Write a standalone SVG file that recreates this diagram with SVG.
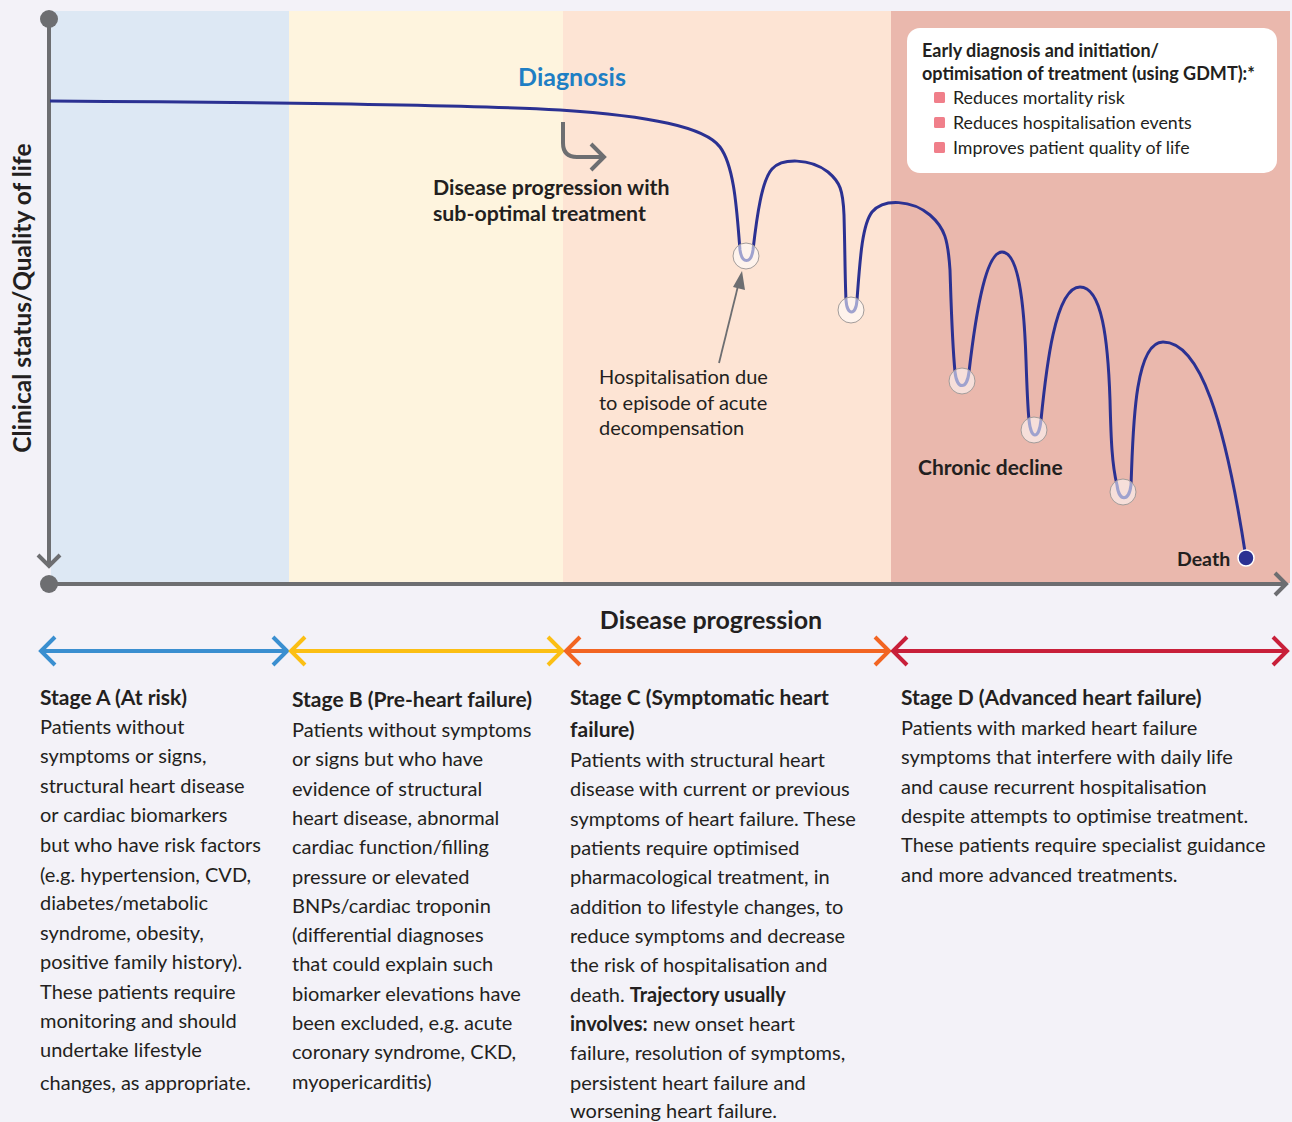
<svg xmlns="http://www.w3.org/2000/svg" width="1292" height="1122" viewBox="0 0 1292 1122">
<style>
text{font-family:Lato,"Open Sans","Liberation Sans",sans-serif;fill:#231f20}
.b{font-weight:bold}
.body{font-size:20px}
.ttl{font-size:21px;font-weight:bold}
.axis{stroke:#6d6e71;stroke-width:4;fill:none}
.dip{fill:#ffffff;fill-opacity:0.55;stroke:#a39c9a;stroke-width:1}
.sa{fill:none;stroke-width:4;stroke-linecap:butt;stroke-linejoin:miter}
.leg{font-size:17.8px}
.legt{font-size:18px;font-weight:bold}
</style>
<rect x="0" y="0" width="1292" height="1122" fill="#f3f2f8"/>
<g id="panels">
<rect x="51" y="11" width="238" height="572" fill="#dde8f4"/>
<rect x="289" y="11" width="274" height="572" fill="#fef4de"/>
<rect x="563" y="11" width="328" height="572" fill="#fde4d4"/>
<rect x="891" y="11" width="399" height="572" fill="#eab8ad"/>
</g>
<g id="axes">
<line class="axis" x1="49" y1="19" x2="49" y2="566"/>
<polyline class="axis" points="38,555 49,566 60,555"/>
<circle cx="49" cy="19" r="9" fill="#6d6e71"/>
<line class="axis" x1="49" y1="584" x2="1286" y2="584"/>
<polyline class="axis" points="1275,573 1286,584 1275,595"/>
<circle cx="49" cy="584" r="9" fill="#6d6e71"/>
<text class="b" font-size="24.5" transform="translate(31,298) rotate(-90)" text-anchor="middle">Clinical status/Quality of life</text>
<text class="b" font-size="25" x="711" y="629" text-anchor="middle">Disease progression</text>
</g>
<g id="curve">
<path d="M50,101 C200,102 450,104 560,110 C650,116 705,127 720,147 C735,167 737,215 740,250 C742,264 751,264 753,250 C757,215 762,180 772,169 C782,158 810,158 828,172 C840,182 843,190 844,215 C845,250 845,280 846,300 C847,316 856,316 857,300 C860,260 862,225 872,212 C884,198 912,200 930,215 C945,228 948,240 950,270 C951,300 952,340 955,372 C957,390 967,390 969,372 C975,320 985,252 1002,252 C1018,252 1024,300 1026,360 C1027,390 1028,410 1029,420 C1031,440 1039,440 1041,420 C1046,370 1055,287 1080,287 C1102,287 1108,340 1110,400 C1111,440 1112,465 1117,485 C1119,502 1129,502 1131,485 C1133,440 1133,342 1163,342 C1200,342 1225,420 1246,558" fill="none" stroke="#2b3192" stroke-width="3"/>
<circle class="dip" cx="746" cy="256" r="13"/>
<circle class="dip" cx="851" cy="310" r="13"/>
<circle class="dip" cx="962" cy="381" r="13"/>
<circle class="dip" cx="1034" cy="430" r="13"/>
<circle class="dip" cx="1123" cy="492" r="13"/>
<circle cx="1246" cy="558" r="8" fill="#2b3192" stroke="#ffffff" stroke-width="1.5"/>
</g>
<g id="diagnosis">
<text class="b" font-size="25" x="572" y="86" text-anchor="middle" style="fill:#1f7fc4">Diagnosis</text>
<path d="M563,122 L563,143 Q563,157 577,157 L604,157" fill="none" stroke="#6d6e71" stroke-width="4"/>
<polyline points="591,144 604,157 591,170" fill="none" stroke="#6d6e71" stroke-width="4"/>
<text class="b" font-size="21.3" x="433" y="195">Disease progression with</text>
<text class="b" font-size="21.3" x="433" y="221">sub-optimal treatment</text>
</g>
<g id="hospitalisation">
<line x1="719" y1="363" x2="739" y2="282" stroke="#6d6e71" stroke-width="1.8"/>
<polygon points="742,271 733,287 745,290" fill="#6d6e71"/>
<text class="body" x="599" y="384">Hospitalisation due</text>
<text class="body" x="599" y="410">to episode of acute</text>
<text class="body" x="599" y="435">decompensation</text>
</g>
<g id="chronic">
<text class="b" font-size="21" x="918" y="475">Chronic decline</text>
<text class="b" font-size="19.5" x="1177" y="566">Death</text>
</g>
<g id="legend">
<rect x="907" y="28" width="370" height="145" rx="13" fill="#ffffff"/>
<text class="legt" x="922" y="57">Early diagnosis and initiation/</text>
<text class="legt" x="922" y="80">optimisation of treatment (using GDMT):*</text>
<rect x="934" y="92" width="11" height="11" rx="1.5" fill="#f07f8a"/>
<rect x="934" y="117" width="11" height="11" rx="1.5" fill="#f07f8a"/>
<rect x="934" y="142" width="11" height="11" rx="1.5" fill="#f07f8a"/>
<text class="leg" x="953" y="104">Reduces mortality risk</text>
<text class="leg" x="953" y="129">Reduces hospitalisation events</text>
<text class="leg" x="953" y="154">Improves patient quality of life</text>
</g>
<g id="stage-arrows">
<line x1="43" y1="651" x2="285" y2="651" stroke="#3a8fd0" stroke-width="4"/>
<polyline class="sa" stroke="#3a8fd0" points="55,637 41,651 55,665"/>
<polyline class="sa" stroke="#3a8fd0" points="273,637 287,651 273,665"/>
<line x1="293" y1="651" x2="560" y2="651" stroke="#fbbf14" stroke-width="4"/>
<polyline class="sa" stroke="#fbbf14" points="305,637 291,651 305,665"/>
<polyline class="sa" stroke="#fbbf14" points="548,637 562,651 548,665"/>
<line x1="568" y1="651" x2="887" y2="651" stroke="#f26522" stroke-width="4"/>
<polyline class="sa" stroke="#f26522" points="580,637 566,651 580,665"/>
<polyline class="sa" stroke="#f26522" points="875,637 889,651 875,665"/>
<line x1="895" y1="651" x2="1285" y2="651" stroke="#c8203a" stroke-width="4"/>
<polyline class="sa" stroke="#c8203a" points="907,637 893,651 907,665"/>
<polyline class="sa" stroke="#c8203a" points="1273,637 1287,651 1273,665"/>
</g>
<g id="stage-a">
<text class="ttl" x="40" y="705">Stage A (At risk)</text>
<text class="body" x="40" y="734">Patients without</text>
<text class="body" x="40" y="763">symptoms or signs,</text>
<text class="body" x="40" y="793">structural heart disease</text>
<text class="body" x="40" y="822">or cardiac biomarkers</text>
<text class="body" x="40" y="852">but who have risk factors</text>
<text class="body" x="40" y="882">(e.g. hypertension, CVD,</text>
<text class="body" x="40" y="910">diabetes/metabolic</text>
<text class="body" x="40" y="940">syndrome, obesity,</text>
<text class="body" x="40" y="969">positive family history).</text>
<text class="body" x="40" y="999">These patients require</text>
<text class="body" x="40" y="1028">monitoring and should</text>
<text class="body" x="40" y="1057">undertake lifestyle</text>
<text class="body" x="40" y="1090">changes, as appropriate.</text>
</g>
<g id="stage-b">
<text class="ttl" x="292" y="707">Stage B (Pre-heart failure)</text>
<text class="body" x="292" y="737">Patients without symptoms</text>
<text class="body" x="292" y="766">or signs but who have</text>
<text class="body" x="292" y="796">evidence of structural</text>
<text class="body" x="292" y="825">heart disease, abnormal</text>
<text class="body" x="292" y="854">cardiac function/filling</text>
<text class="body" x="292" y="884">pressure or elevated</text>
<text class="body" x="292" y="913">BNPs/cardiac troponin</text>
<text class="body" x="292" y="942">(differential diagnoses</text>
<text class="body" x="292" y="971">that could explain such</text>
<text class="body" x="292" y="1001">biomarker elevations have</text>
<text class="body" x="292" y="1030">been excluded, e.g. acute</text>
<text class="body" x="292" y="1059">coronary syndrome, CKD,</text>
<text class="body" x="292" y="1089">myopericarditis)</text>
</g>
<g id="stage-c">
<text class="ttl" x="570" y="705">Stage C (Symptomatic heart</text>
<text class="ttl" x="570" y="737">failure)</text>
<text class="body" x="570" y="767">Patients with structural heart</text>
<text class="body" x="570" y="796">disease with current or previous</text>
<text class="body" x="570" y="826">symptoms of heart failure. These</text>
<text class="body" x="570" y="855">patients require optimised</text>
<text class="body" x="570" y="884">pharmacological treatment, in</text>
<text class="body" x="570" y="914">addition to lifestyle changes, to</text>
<text class="body" x="570" y="943">reduce symptoms and decrease</text>
<text class="body" x="570" y="972">the risk of hospitalisation and</text>
<text class="body" x="570" y="1002">death. <tspan class="b">Trajectory usually</tspan></text>
<text class="body" x="570" y="1031"><tspan class="b">involves:</tspan> new onset heart</text>
<text class="body" x="570" y="1060">failure, resolution of symptoms,</text>
<text class="body" x="570" y="1090">persistent heart failure and</text>
<text class="body" x="570" y="1118">worsening heart failure.</text>
</g>
<g id="stage-d">
<text class="ttl" x="901" y="705">Stage D (Advanced heart failure)</text>
<text class="body" x="901" y="735">Patients with marked heart failure</text>
<text class="body" x="901" y="764">symptoms that interfere with daily life</text>
<text class="body" x="901" y="794">and cause recurrent hospitalisation</text>
<text class="body" x="901" y="823">despite attempts to optimise treatment.</text>
<text class="body" x="901" y="852">These patients require specialist guidance</text>
<text class="body" x="901" y="882">and more advanced treatments.</text>
</g>
</svg>
